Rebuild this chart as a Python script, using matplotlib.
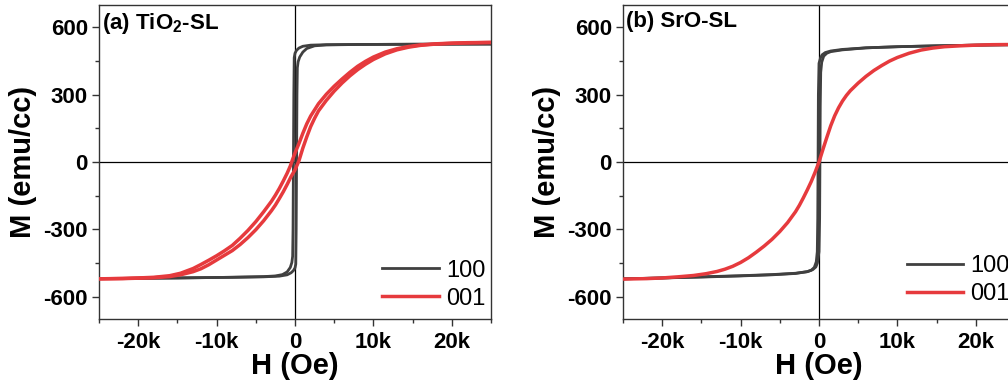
import numpy as np
import matplotlib
matplotlib.use('Agg')
import matplotlib.pyplot as plt

plt.rcParams['font.family'] = ['Liberation Sans', 'DejaVu Sans']
plt.rcParams['axes.unicode_minus'] = False
plt.rcParams['mathtext.fontset'] = 'custom'
plt.rcParams['mathtext.rm'] = 'Liberation Sans'
plt.rcParams['mathtext.bf'] = 'Liberation Sans:bold'

# (a) TiO2-SL, [100] loop: descending branch then ascending branch
H_a100_dn = [25000, 15000, 8000, 4000, 2000, 1000, 500, 200, 0, -100, -150, -200, -250, -300,
             -400, -600, -1000, -1600, -2500, -4000, -8000, -15000, -25000]
M_a100_dn = [526, 525, 524, 523, 521, 516, 508, 498, 485, 465, 300, 0, -300, -420,
             -448, -470, -490, -502, -508, -511, -514, -517, -520]
H_a100_up = [-25000, -15000, -8000, -4000, -2000, -1000, -500, -200, 0, 100, 150, 200, 250, 300,
             400, 600, 1000, 1500, 2500, 4000, 8000, 15000, 25000]
M_a100_up = [-520, -517, -514, -512, -509, -503, -494, -484, -472, -455, -300, 0, 300, 420,
             447, 468, 490, 506, 518, 522, 524, 525, 526]

# (a) TiO2-SL, [001] loop
H_a001_dn = [25000, 22000, 20000, 18000, 16000, 14500, 13000, 11500, 10000, 9000, 8000, 7000,
             6000, 5000, 4000, 3000, 2000, 1500, 1000, 500, 0, -300, -600, -1000, -1500, -2000,
             -2500, -3000, -4000, -5000, -6000, -7000, -8000, -9000, -10000, -11000, -12000,
             -13000, -14600, -16000, -18000, -20000, -22000, -25000]
M_a001_dn = [533, 532, 530, 527, 522, 515, 505, 490, 468, 449, 427, 400,
             370, 338, 302, 260, 205, 170, 128, 82, 40, 12, -18, -50, -85, -118,
             -148, -175, -222, -266, -305, -340, -372, -396, -418, -438, -457,
             -475, -496, -507, -514, -517, -519, -521]
H_a001_up = [-25000, -22000, -20000, -18000, -16000, -14600, -13000, -12000, -11000, -10000,
             -9000, -8000, -7000, -6000, -5000, -4000, -3000, -2500, -2000, -1500, -1000, -500,
             0, 500, 1000, 1500, 2000, 2500, 3000, 4000, 5000, 6000, 7000, 8000, 9000, 10000,
             11500, 13000, 14500, 16000, 18000, 20000, 22000, 25000]
M_a001_up = [-521, -520, -518, -516, -511, -503, -489, -476, -458, -437,
             -416, -395, -368, -337, -302, -262, -217, -192, -163, -133, -100, -65,
             -35, 5, 62, 112, 158, 195, 228, 275, 316, 352, 384, 412, 436, 457,
             482, 500, 512, 520, 526, 529, 531, 533]

# (b) SrO-SL, [100] loop
H_b100_dn = [25000, 20000, 15000, 10000, 6000, 3000, 1500, 800, 400, 200, 0, -80, -120, -160,
             -220, -350, -600, -1000, -1500, -3000, -6000, -10000, -15000, -20000, -25000]
M_b100_dn = [523, 521, 518, 514, 509, 502, 495, 488, 478, 465, 440, 300, 0, -250,
             -400, -445, -470, -483, -489, -497, -503, -508, -513, -517, -521]
H_b100_up = [-25000, -20000, -15000, -10000, -6000, -3000, -1500, -800, -400, -200, 0, 80, 120,
             160, 220, 350, 600, 1000, 1500, 3000, 6000, 10000, 15000, 20000, 25000]
M_b100_up = [-521, -517, -512, -507, -502, -496, -489, -480, -468, -450, -400, -250, 0,
             250, 400, 445, 472, 485, 492, 500, 509, 514, 518, 521, 523]

# (b) SrO-SL, [001] curve (branches overlap)
H_b001 = [-25000, -22000, -20000, -18000, -16000, -14400, -13000, -12000, -11000, -10000,
          -9000, -8000, -7000, -6000, -5000, -4000, -3000, -2500, -2000, -1500, -1000, -500,
          0, 500, 1000, 1500, 2000, 2500, 3000, 3500, 4000, 5000, 6000, 7000, 8000, 9000,
          10000, 11500, 13000, 14500, 16000, 18000, 20000, 22000, 25000]
M_b001 = [-522, -520, -517, -512, -506, -498, -488, -478, -465, -448,
          -427, -402, -375, -345, -310, -270, -222, -193, -160, -125, -88, -46,
          0, 56, 110, 162, 206, 242, 272, 297, 318, 352, 382, 408, 430, 450,
          466, 485, 499, 508, 514, 518, 521, 523, 524]

xticks = [-20000, -10000, 0, 10000, 20000]
xtick_labels = ['-20k', '-10k', '0', '10k', '20k']
yticks = [-600, -300, 0, 300, 600]
legend_labels = ['100', '001']

c_black = '#404040'
c_red = '#e63a3d'
W, H = 1008, 385

fig = plt.figure(figsize=(W / 100, H / 100), dpi=100)


def make_panel(left_px, title, curves100, curves001, leg_anchor):
    ax = fig.add_axes([left_px / W, 1 - 319 / H, 392 / W, 314 / H])
    ax.axhline(0, color='k', lw=0.9, zorder=1)
    ax.axvline(0, color='k', lw=0.9, zorder=1)
    l1 = None
    for hh, mm in curves100:
        l1, = ax.plot(hh, mm, color=c_black, lw=2.0, zorder=2)
    l2 = None
    for hh, mm in curves001:
        l2, = ax.plot(hh, mm, color=c_red, lw=2.5, zorder=3)
    ax.set_xlim(-25000, 25000)
    ax.set_ylim(-700, 700)
    ax.set_xticks(xticks)
    ax.set_xticklabels(xtick_labels)
    ax.set_xticks([-25000, -15000, -5000, 5000, 15000, 25000], minor=True)
    ax.set_yticks(yticks)
    ax.set_yticks([-450, -150, 150, 450], minor=True)
    ax.tick_params(which='major', direction='out', length=5, width=1, labelsize=16, pad=3,
                   color='#333333')
    ax.tick_params(which='minor', direction='out', length=3, width=1, color='#333333')
    ax.tick_params(axis='x', which='major', pad=4)
    for lab in ax.get_xticklabels() + ax.get_yticklabels():
        lab.set_fontweight('bold')
    for sp in ax.spines.values():
        sp.set_color('#333333')
        sp.set_linewidth(1.0)
    ax.set_xlabel('H (Oe)', fontsize=21, fontweight='bold', va='center')
    ax.xaxis.set_label_coords(0.5, -47 / 314)
    ax.set_ylabel('M (emu/cc)', fontsize=21, fontweight='bold', va='center')
    ax.yaxis.set_label_coords(-76 / 392, 0.5)
    ax.text(0.008, 0.982, title, transform=ax.transAxes, fontsize=16, fontweight='bold',
            ha='left', va='top')
    ax.legend([l1, l2], legend_labels, loc='lower left', bbox_to_anchor=leg_anchor,
              frameon=False, fontsize=17, handlelength=2.4, handletextpad=0.3,
              labelspacing=0.25, borderpad=0, borderaxespad=0)
    return ax


make_panel(99, r'(a) TiO$_\mathbf{2}$-SL',
           [(H_a100_dn, M_a100_dn), (H_a100_up, M_a100_up)],
           [(H_a001_dn, M_a001_dn), (H_a001_up, M_a001_up)],
           (0.722, 0.03))
make_panel(623, '(b) SrO-SL',
           [(H_b100_dn, M_b100_dn), (H_b100_up, M_b100_up)],
           [(H_b001, M_b001)],
           (0.724, 0.045))

fig.savefig('out.png', dpi=100)
